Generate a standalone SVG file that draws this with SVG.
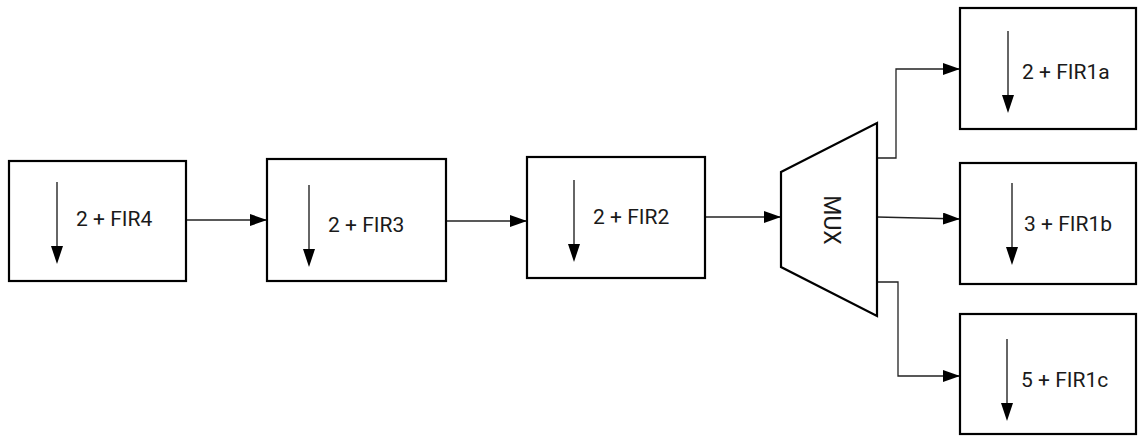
<svg xmlns="http://www.w3.org/2000/svg" width="1144" height="436" viewBox="0 0 1144 436">
  <style>
    .box { fill: #ffffff; stroke: #000000; stroke-width: 2.2; }
    .lbl { font-family: Roboto, "Liberation Sans", sans-serif; font-size: 21px; fill: #1a1a1a; }
    .big { font-size: 23px; }
    .dn { stroke: #333333; stroke-width: 1.5; fill: none; }
    .dnhead { fill: #000000; }
    .wire { stroke: #222222; stroke-width: 1.3; fill: none; marker-end: url(#tip); }
  </style>
  <defs>
    <marker id="tip" markerUnits="userSpaceOnUse" markerWidth="17" markerHeight="12" refX="17" refY="6" orient="auto">
      <path d="M0,0 L17,6 L0,12 Z" fill="#000000"/>
    </marker>
    <!-- downsampling arrow: stem plus head, tip at origin -->
    <g id="down">
      <line class="dn" x1="0" y1="-82" x2="0" y2="-16"/>
      <path class="dnhead" d="M-6,-18 L6,-18 L0,0 Z"/>
    </g>
  </defs>

  <g id="connectors">
    <path class="wire" d="M186,220 H267"/>
    <path class="wire" d="M446,221 H527"/>
    <path class="wire" d="M705,217 H781"/>
    <path class="wire" d="M877,158 H896 V69 H960"/>
    <path class="wire" d="M877,217 L960,219"/>
    <path class="wire" d="M877,282 H898 V376 H960"/>
  </g>

  <g id="fir4">
    <rect class="box" x="9" y="161" width="177" height="120"/>
    <use href="#down" x="57" y="264"/>
    <text class="lbl" x="76" y="226">2 + FIR4</text>
  </g>

  <g id="fir3">
    <rect class="box" x="267" y="159" width="179" height="122"/>
    <use href="#down" x="309" y="267"/>
    <text class="lbl" x="328" y="232">2 + FIR3</text>
  </g>

  <g id="fir2">
    <rect class="box" x="527" y="157" width="178" height="121"/>
    <use href="#down" x="574" y="262"/>
    <text class="lbl" x="593" y="224">2 + FIR2</text>
  </g>

  <g id="mux">
    <polygon class="box" points="781,172 877,123 877,316 781,267"/>
    <text class="lbl big" x="0" y="0" text-anchor="middle" dominant-baseline="central" transform="translate(831,220) rotate(90)">MUX</text>
  </g>

  <g id="fir1a">
    <rect class="box" x="960" y="8" width="176" height="121"/>
    <use href="#down" x="1008" y="113"/>
    <text class="lbl" x="1022" y="79">2 + FIR1a</text>
  </g>

  <g id="fir1b">
    <rect class="box" x="960" y="163" width="176" height="121"/>
    <use href="#down" x="1012" y="265"/>
    <text class="lbl" x="1024" y="231">3 + FIR1b</text>
  </g>

  <g id="fir1c">
    <rect class="box" x="960" y="314" width="176" height="120"/>
    <use href="#down" x="1007" y="421"/>
    <text class="lbl" x="1021" y="387">5 + FIR1c</text>
  </g>
</svg>
